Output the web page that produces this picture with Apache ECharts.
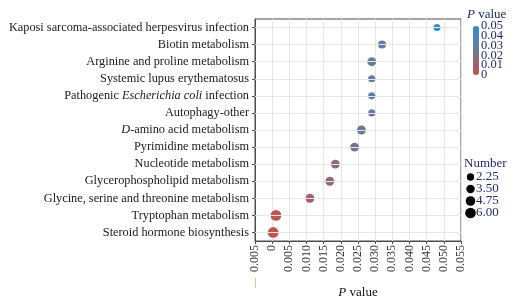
<!DOCTYPE html>
<html>
<head>
<meta charset="utf-8">
<script src="https://cdn.jsdelivr.net/npm/echarts@6/dist/echarts.min.js"></script>
<style>
  html, body { margin: 0; padding: 0; background: #fff; }
  #chart { width: 522px; height: 300px; }
</style>
</head>
<body>
<div id="chart"></div>
<script>
// pathways listed top to bottom
const pathways = [
  "Kaposi sarcoma-associated herpesvirus infection",
  "Biotin metabolism",
  "Arginine and proline metabolism",
  "Systemic lupus erythematosus",
  "Pathogenic Escherichia coli infection",
  "Autophagy-other",
  "D-amino acid metabolism",
  "Pyrimidine metabolism",
  "Nucleotide metabolism",
  "Glycerophospholipid metabolism",
  "Glycine, serine and threonine metabolism",
  "Tryptophan metabolism",
  "Steroid hormone biosynthesis"
];
const pValues = [0.048, 0.032, 0.029, 0.029, 0.029, 0.029, 0.026, 0.024, 0.0184, 0.0168, 0.011, 0.0011, 0.0003];
const counts = [2, 3, 4, 2, 2, 2, 4, 4, 4, 4, 4, 6, 6];

const xMin = -0.005, xMax = 0.055, xStep = 0.005;
const colorTicks = [0.05, 0.04, 0.03, 0.02, 0.01, 0];
const sizeBreaks = [2.25, 3.5, 4.75, 6.0];

const serif = "'Liberation Serif', 'DejaVu Serif', serif";
const navy = "#1e2b78";
const dotSize = n => 5.3 + 0.9 * n;

// colour bar geometry
const cbLeft = 473, cbTop = 26, cbW = 6, cbH = 49;

const chart = echarts.init(document.getElementById("chart"));

const graphics = [
  {
    type: "text", left: 467, top: 8,
    style: {
      text: "{i|P} value", fill: navy, font: "13px " + serif,
      rich: { i: { fontStyle: "italic", fontFamily: serif, fontSize: 13, fill: navy } }
    }
  },
  {
    type: "text", left: 464, top: 157,
    style: { text: "Number", fill: navy, font: "13px " + serif }
  }
];
colorTicks.forEach(t => {
  graphics.push({
    type: "text", left: cbLeft + cbW + 2, top: cbTop + cbH * (1 - t / 0.05) - 6.5,
    style: { text: t === 0 ? "0" : t.toFixed(2), fill: navy, font: "12.5px " + serif }
  });
});
sizeBreaks.forEach((b, i) => {
  const cy = 177 + i * 12;
  graphics.push({
    type: "circle", shape: { cx: 470.5, cy: cy, r: dotSize(b) / 2 },
    style: { fill: "#000" }
  });
  graphics.push({
    type: "text", left: 476, top: cy - 7,
    style: { text: b.toFixed(2), fill: navy, font: "13px " + serif }
  });
});

const option = {
  animation: false,
  grid: {
    left: 255, right: 61, top: 19, bottom: 59,
    outerBoundsMode: "none", containLabel: false,
    show: true, borderColor: "#4d4d4d", borderWidth: 1, backgroundColor: "transparent"
  },
  xAxis: {
    type: "value", min: xMin, max: xMax, interval: xStep,
    name: "{i|P} value", nameLocation: "middle", nameGap: 45, nameMoveOverlap: false,
    nameTextStyle: {
      fontFamily: serif, fontSize: 13, color: "#111",
      rich: { i: { fontStyle: "italic", fontFamily: serif, fontSize: 13, color: "#111" } }
    },
    axisLine: { show: true, onZero: false, lineStyle: { color: "#4d4d4d" } },
    axisTick: { show: true, length: 3, lineStyle: { color: "#4d4d4d" } },
    splitLine: { show: true, lineStyle: { color: "#e6e6e6", width: 1 } },
    axisLabel: {
      rotate: 90, margin: 4, fontFamily: serif, fontSize: 12, color: "#333",
      formatter: v => {
        if (Math.abs(v) < 1e-9) return "0";
        if (v < 0) return "{m|—}" + Math.abs(v).toFixed(3);
        return v.toFixed(3);
      },
      rich: { m: { color: "#e8892a", fontSize: 10, padding: [0, 6, 0, 0] } }
    }
  },
  yAxis: {
    type: "category", data: pathways, inverse: true,
    axisLine: { show: true, onZero: false, lineStyle: { color: "#4d4d4d" } },
    axisTick: { show: true, alignWithLabel: true, length: 3, lineStyle: { color: "#4d4d4d" } },
    splitLine: { show: false },
    axisLabel: {
      margin: 6, fontFamily: serif, fontSize: 12.3, color: "#1a1a1a",
      formatter: v => v.replace("Escherichia coli", "{i|Escherichia coli}").replace(/^D-/, "{i|D}-"),
      rich: { i: { fontStyle: "italic", fontFamily: serif, fontSize: 12.3, color: "#1a1a1a" } }
    }
  },
  visualMap: {
    type: "continuous", seriesIndex: 1, dimension: 0,
    min: 0, max: 0.05, calculable: false, realtime: false,
    left: cbLeft, top: cbTop, itemWidth: cbW, itemHeight: cbH, padding: 0,
    text: null, showLabel: false,
    inRange: { color: ["#c4534c", "#9c6270", "#6f7896", "#4d86b3", "#2f8fcb"] }
  },
  series: [
    {
      type: "scatter", data: [], z: 1, silent: true,
      markLine: {
        silent: true, symbol: "none", label: { show: false },
        lineStyle: { color: "#e6e6e6", type: "solid", width: 1 },
        data: pathways.map(p => ({ yAxis: p }))
      }
    },
    {
      type: "scatter", z: 3,
      data: pValues.map((p, i) => [p, pathways[i], counts[i]]),
      symbolSize: val => dotSize(val[2]),
      itemStyle: { opacity: 1 }
    }
  ],
  graphic: graphics
};

chart.setOption(option);
</script>
</body>
</html>
